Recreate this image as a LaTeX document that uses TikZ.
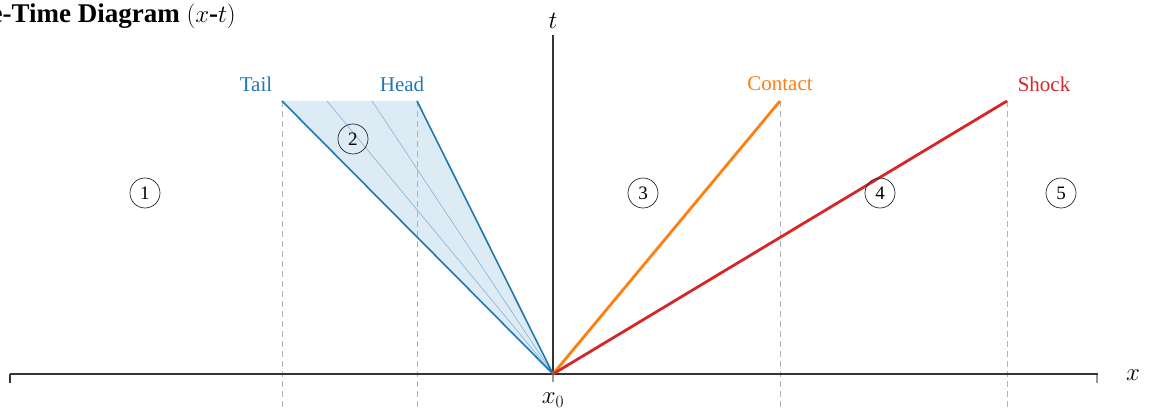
\documentclass[tikz,border=0pt]{standalone}
\usepackage{fontspec}
\setmainfont{Liberation Serif}
\usetikzlibrary{calc}
\definecolor{tabblue}{HTML}{1F77B4}
\definecolor{taborange}{HTML}{FF7F0E}
\definecolor{tabred}{HTML}{D62728}
\begin{document}
\begin{tikzpicture}[x=1pt, y=1pt,
    axis/.style={black!80, line width=1.6pt},
    tickmark/.style={black!40, line width=1.2pt},
    guide/.style={black!30, line width=0.8pt, dash pattern=on 6pt off 4pt},
    region/.style={circle, draw=black!85, line width=0.7pt, minimum size=30pt, inner sep=0pt, font=\fontsize{19}{19}\selectfont},
    wavelabel/.style={font=\fontsize{21}{21}\selectfont},
    axislabel/.style={font=\fontsize{25}{25}\selectfont}]
    \useasboundingbox (-553,-37) rectangle (604,374);
    % Title (cut off at the left edge)
    \node[anchor=base east, inner sep=0pt, font=\bfseries\fontsize{27}{27}\selectfont] (title) at (-317,351) {Space-Time Diagram $(x$-$t)$};
    % Wave tops and helpers
    \coordinate (O) at (0,0);
    \coordinate (bottom) at (0,-37);
    \coordinate (tailtop) at (-271,273);
    \coordinate (headtop) at (-136,273);
    \coordinate (contacttop) at (227,273);
    \coordinate (shocktop) at (454,273);
    % Rarefaction fan
    \fill[tabblue!15] (O) -- (tailtop) -- (headtop) -- cycle;
    \foreach \k in {1,2}
        \draw[tabblue!55, line width=0.6pt] (O) -- ($(tailtop)!\k/3!(headtop)$);
    % Dashed guides
    \foreach \p in {tailtop,headtop,contacttop,shocktop}
        \draw[guide] (\p) -- (\p |- bottom);
    % Axes
    \coordinate (xl) at (-543,0);
    \coordinate (xr) at (545,0);
    \coordinate (ttop) at (0,339);
    \draw[axis] (xl) -- ++(0,-9);
    \draw[tickmark] (xr) ++(-1,0) -- ++(0,-9);
    \draw[tickmark] (O) -- ++(0,-8);
    \draw[axis] (xl) -- (xr);
    \draw[axis] (O) -- (ttop);
    \node[axislabel] (xlab) at (580,-1) {$x$};
    \node[axislabel] (tlab) at (0,353) {$t$};
    \node[axislabel] (x0lab) at (0,-26) {$x_0$};
    % Waves
    \draw[tabblue, line width=1.6pt] (O) -- (tailtop);
    \draw[tabblue, line width=1.6pt] (O) -- (headtop);
    \draw[taborange, line width=2.8pt] (O) -- (contacttop);
    \draw[tabred, line width=2.8pt] (O) -- (shocktop);
    % Wave labels
    \node[wavelabel, text=tabblue] (tail) at (-297,290) {Tail};
    \node[wavelabel, text=tabblue] (head) at (-151,290) {Head};
    \node[wavelabel, text=taborange] (contact) at (227,290) {Contact};
    \node[wavelabel, text=tabred] (shock) at (491,290) {Shock};
    % Regions
    \node[region] (r1) at (-408,181) {1};
    \node[region] (r2) at (-200,235) {2};
    \node[region] (r3) at (90,181) {3};
    \node[region] (r4) at (327,181) {4};
    \node[region] (r5) at (508,181) {5};
\end{tikzpicture}
\end{document}
